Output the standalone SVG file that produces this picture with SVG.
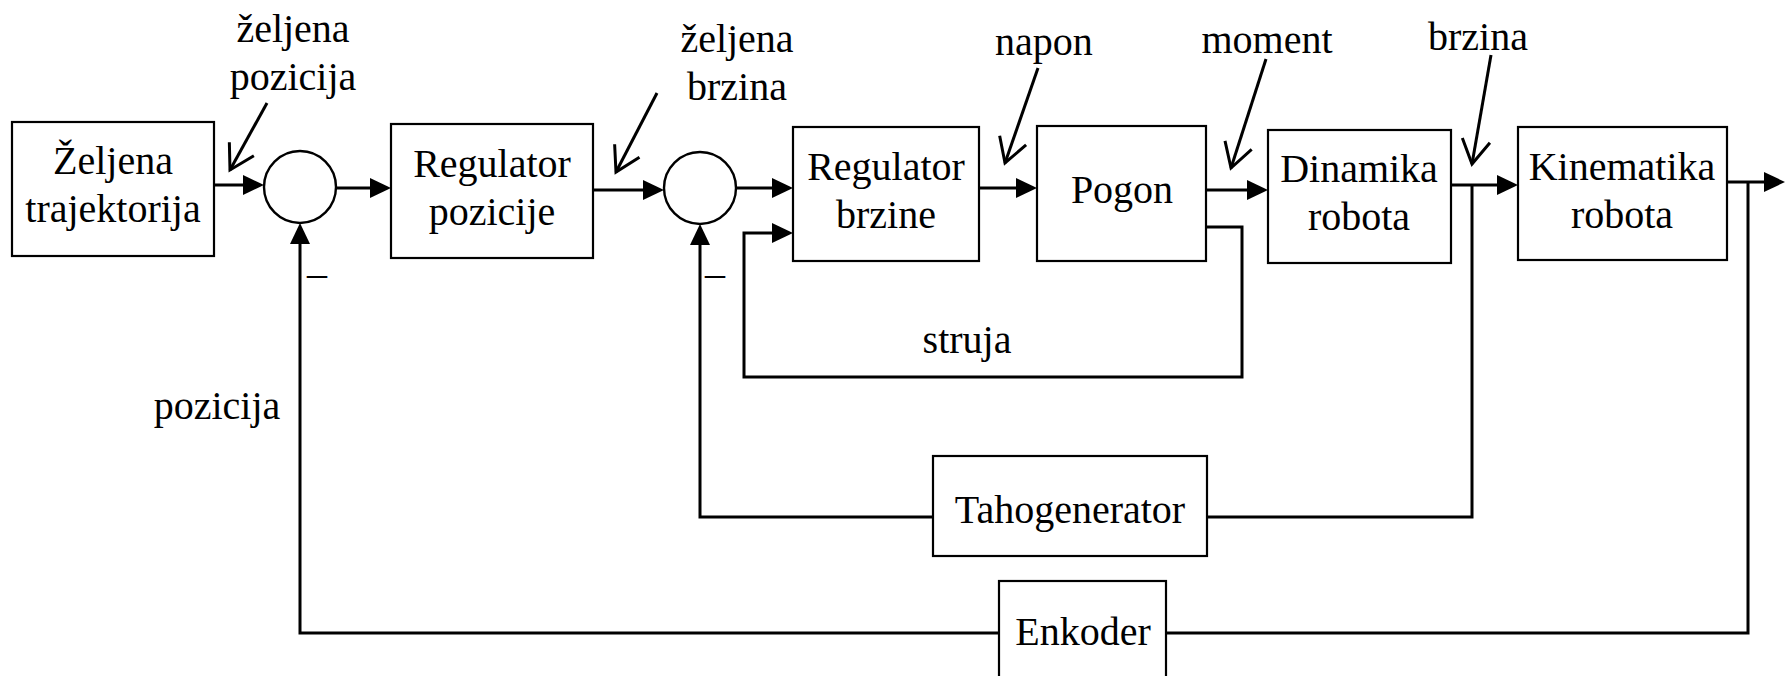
<svg xmlns="http://www.w3.org/2000/svg" width="1785" height="676" viewBox="0 0 1785 676">
  <style>
    .box { fill: #fff; stroke: #000; stroke-width: 2.2; }
    .sum { fill: #fff; stroke: #000; stroke-width: 2.4; }
    .wire { fill: none; stroke: #000; stroke-width: 3; stroke-linejoin: miter; }
    .flow { fill: none; stroke: #000; stroke-width: 3; marker-end: url(#head); }
    .tag { fill: none; stroke: #000; stroke-width: 3; marker-end: url(#open); }
    text { font-family: "Liberation Serif", "Times New Roman", serif; font-size: 40px; fill: #000; text-anchor: middle; }
    .sign { text-anchor: start; }
  </style>
  <defs>
    <!-- filled arrowhead; line ends at the middle of the triangle -->
    <marker id="head" markerUnits="userSpaceOnUse" markerWidth="22" markerHeight="22" viewBox="0 0 22 22" refX="11" refY="10" orient="auto" overflow="visible">
      <path d="M0,0 L21,10 L0,20 Z" fill="#000"/>
    </marker>
    <!-- open V head for signal name pointers -->
    <marker id="open" markerUnits="userSpaceOnUse" markerWidth="30" markerHeight="30" viewBox="-30 -15 30 30" refX="0" refY="0" orient="auto" overflow="visible">
      <path d="M-24,-14 L0,0 L-24,14" fill="none" stroke="#000" stroke-width="3"/>
    </marker>
  </defs>

  <g id="connectors">
    <!-- forward path -->
    <line class="flow" x1="214" y1="185" x2="254" y2="185"/>
    <line class="flow" x1="336" y1="188" x2="381" y2="188"/>
    <line class="flow" x1="593" y1="190" x2="654" y2="190"/>
    <line class="flow" x1="736" y1="188" x2="783" y2="188"/>
    <line class="flow" x1="979" y1="188" x2="1027" y2="188"/>
    <line class="flow" x1="1206" y1="190" x2="1258" y2="190"/>
    <line class="flow" x1="1451" y1="185" x2="1508" y2="185"/>
    <line class="flow" x1="1727" y1="182" x2="1775" y2="182"/>
    <!-- current loop -->
    <polyline class="flow" points="1206,227 1242,227 1242,377 744,377 744,233 783,233"/>
    <!-- velocity feedback -->
    <polyline class="wire" points="1472,185 1472,517 1207,517"/>
    <polyline class="flow" points="933,517 700,517 700,234"/>
    <!-- position feedback -->
    <polyline class="wire" points="1748,182 1748,633 1166,633"/>
    <polyline class="flow" points="999,633 300,633 300,233"/>
    <!-- signal name pointers -->
    <line class="tag" x1="267" y1="103" x2="230" y2="170"/>
    <line class="tag" x1="657" y1="93" x2="616" y2="172"/>
    <line class="tag" x1="1038" y1="68" x2="1005" y2="163"/>
    <line class="tag" x1="1266" y1="59" x2="1231" y2="168"/>
    <line class="tag" x1="1491" y1="55" x2="1472" y2="164"/>
  </g>

  <g id="zeljena-trajektorija">
    <rect class="box" x="12" y="122" width="202" height="134"/>
    <text x="113" y="174">Željena</text>
    <text x="113" y="222">trajektorija</text>
  </g>

  <g id="sum-pozicija">
    <circle class="sum" cx="300" cy="187" r="36"/>
    <text class="sign" x="307" y="286">–</text>
  </g>

  <g id="regulator-pozicije">
    <rect class="box" x="391" y="124" width="202" height="134"/>
    <text x="492" y="177">Regulator</text>
    <text x="492" y="225">pozicije</text>
  </g>

  <g id="sum-brzina">
    <circle class="sum" cx="700" cy="188" r="36"/>
    <text class="sign" x="705" y="286">–</text>
  </g>

  <g id="regulator-brzine">
    <rect class="box" x="793" y="127" width="186" height="134"/>
    <text x="886" y="180">Regulator</text>
    <text x="886" y="228">brzine</text>
  </g>

  <g id="pogon">
    <rect class="box" x="1037" y="126" width="169" height="135"/>
    <text x="1122" y="203">Pogon</text>
  </g>

  <g id="dinamika-robota">
    <rect class="box" x="1268" y="130" width="183" height="133"/>
    <text x="1359" y="182">Dinamika</text>
    <text x="1359" y="230">robota</text>
  </g>

  <g id="kinematika-robota">
    <rect class="box" x="1518" y="127" width="209" height="133"/>
    <text x="1622" y="180">Kinematika</text>
    <text x="1622" y="228">robota</text>
  </g>

  <g id="tahogenerator">
    <rect class="box" x="933" y="456" width="274" height="100"/>
    <text x="1070" y="523">Tahogenerator</text>
  </g>

  <g id="enkoder">
    <rect class="box" x="999" y="581" width="167" height="110"/>
    <text x="1083" y="645">Enkoder</text>
  </g>

  <g id="labels">
    <text x="293" y="42">željena</text>
    <text x="293" y="90">pozicija</text>
    <text x="737" y="52">željena</text>
    <text x="737" y="100">brzina</text>
    <text x="1044" y="55">napon</text>
    <text x="1267" y="53">moment</text>
    <text x="1478" y="50">brzina</text>
    <text x="967" y="353">struja</text>
    <text x="217" y="419">pozicija</text>
  </g>
</svg>
